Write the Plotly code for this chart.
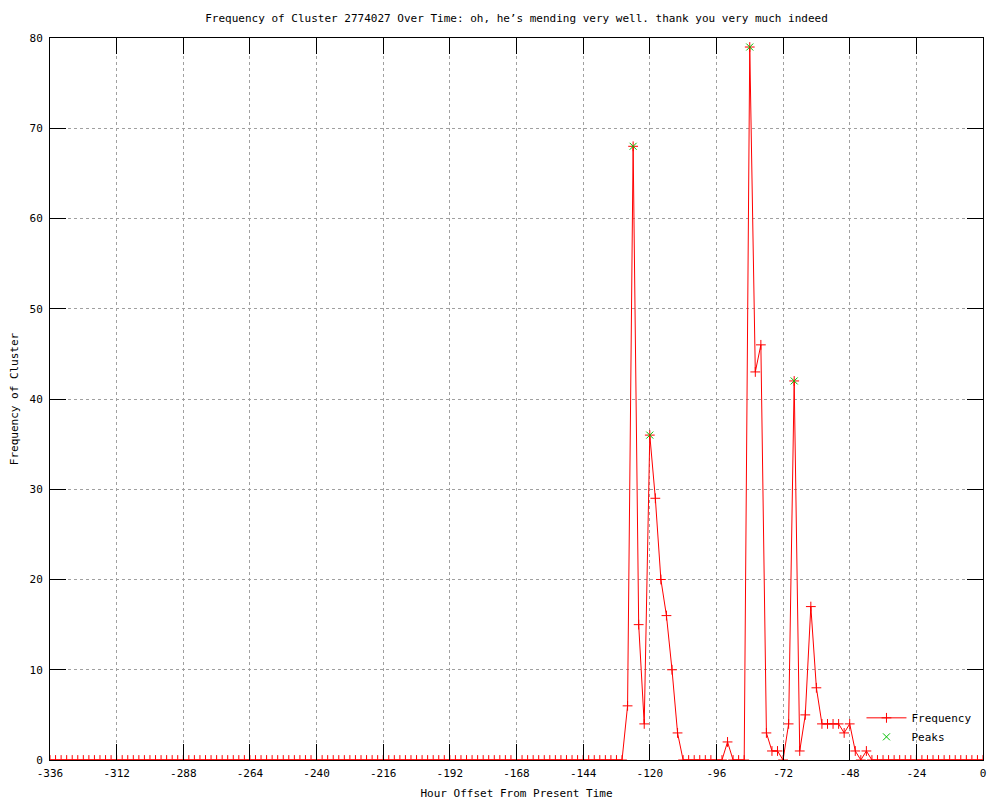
import plotly.graph_objects as go

# Hours every 2 h from -336 to 0
hours = list(range(-336, 1, 2))

# Non-zero frequency values (all other hours are 0)
nonzero_hours = [-128, -126, -124, -122, -120, -118, -116, -114, -112, -110,
                 -92, -84, -82, -80, -78, -76, -74, -70, -68, -66, -64, -62,
                 -60, -58, -56, -54, -52, -50, -48, -46, -42]
nonzero_values = [6, 68, 15, 4, 36, 29, 20, 16, 10, 3,
                  2, 79, 43, 46, 3, 1, 1, 4, 42, 1, 5, 17,
                  8, 4, 4, 4, 4, 3, 4, 1, 1]

lookup = dict(zip(nonzero_hours, nonzero_values))
freq = [lookup.get(h, 0) for h in hours]

peak_hours = [-126, -120, -84, -68]
peak_values = [68, 36, 79, 42]

x_ticks = list(range(-336, 1, 24))
x_tick_text = [str(v) for v in x_ticks]
y_ticks = list(range(0, 81, 10))

title = "Frequency of Cluster 2774027 Over Time: oh, he\u2019s mending very well. thank you very much indeed"

FONT = "DejaVu Sans Mono"

fig = go.Figure()
fig.add_trace(go.Scatter(
    x=hours, y=freq, mode="lines+markers", name="Frequency",
    line=dict(color="#ff0000", width=1),
    marker=dict(symbol="cross-thin-open", size=7, line=dict(color="#ff0000", width=1), color="#ff0000"),
))
fig.add_trace(go.Scatter(
    x=peak_hours, y=peak_values, mode="markers", name="Peaks",
    marker=dict(symbol="x-thin-open", size=7, line=dict(color="#00c000", width=1), color="#00c000"),
))

axis_common = dict(
    showline=True, linecolor="black", linewidth=1, mirror="allticks",
    ticks="inside", ticklen=16, tickcolor="black", tickwidth=1,
    showgrid=True, gridcolor="#a0a0a0", griddash="dot", gridwidth=1,
    zeroline=False, automargin=False,
    tickfont=dict(family=FONT, size=11, color="black"),
)

fig.update_layout(
    width=992, height=792,
    paper_bgcolor="white", plot_bgcolor="white",
    margin=dict(l=42, r=17, t=30, b=40),
    title=dict(text=title, x=0.5, xanchor="center", xref="paper",
               y=1 - 10 / 792, yref="container", yanchor="middle",
               font=dict(family=FONT, size=11, color="black")),
    xaxis=dict(range=[-336, 0], tickvals=x_ticks, ticktext=x_tick_text,
               ticklabelstandoff=3,
               title=dict(text="Hour Offset From Present Time", standoff=10,
                          font=dict(family=FONT, size=11, color="black")),
               **axis_common),
    yaxis=dict(range=[0, 80], tickvals=y_ticks,
               ticklabelstandoff=4,
               title=dict(text="Frequency of Cluster", standoff=9,
                          font=dict(family=FONT, size=11, color="black")),
               **axis_common),
    legend=dict(x=0.993, y=0.012, xanchor="right", yanchor="bottom",
                bgcolor="rgba(0,0,0,0)", font=dict(family=FONT, size=11, color="black"),
                tracegroupgap=0, itemwidth=40),
    showlegend=True,
)

fig.write_html("out.html")
